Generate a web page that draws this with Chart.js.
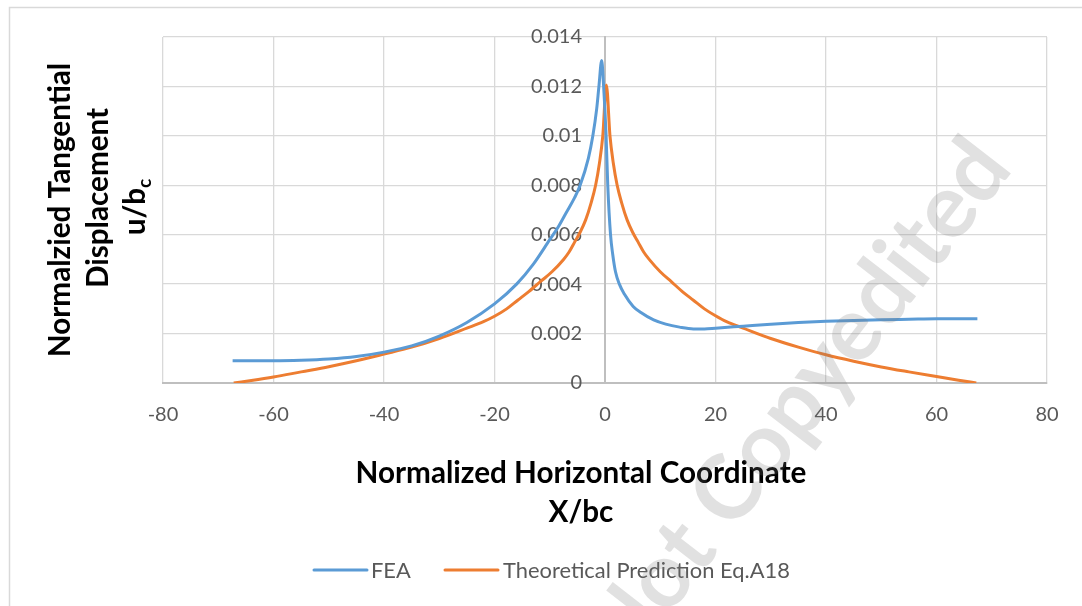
<!DOCTYPE html>
<html>
<head>
<meta charset="utf-8">
<script src="https://cdn.jsdelivr.net/npm/chart.js@4.4.1/dist/chart.umd.min.js"></script>
<style>
  html, body { margin: 0; padding: 0; background: #ffffff; }
  canvas { display: block; }
</style>
</head>
<body>
<canvas id="chart" width="1082" height="606"></canvas>
<script>
// ---------------- DATA ----------------
const seriesNames = ['FEA', 'Theoretical Prediction Eq.A18'];

const feaX = [-67.4, -60, -55, -50, -45, -40, -35, -30, -25, -20,
              -16, -13, -10, -8.5, -7, -5.5, -4.5, -3, -2.2, -1.5,
              -1.1, -0.6, -0.3, 0.2, 0.5, 1.0, 1.4, 1.9, 2.6, 3.5,
              5.1, 6.5, 8.8, 11, 13.5, 16, 18, 20, 25, 30,
              35, 40, 45, 50, 55, 60, 67.4];
const feaY = [0.0009, 0.0009, 0.00092, 0.00097, 0.00107, 0.00125, 0.0015, 0.0019, 0.00245, 0.0032,
              0.004, 0.0048, 0.0058, 0.0063, 0.0069, 0.0075, 0.008, 0.0091, 0.010, 0.0111,
              0.012, 0.01305, 0.0122, 0.010, 0.008, 0.006, 0.0052, 0.0045, 0.004, 0.0036,
              0.0031, 0.00285, 0.00255, 0.00238, 0.00226, 0.00219, 0.00219, 0.00222, 0.0023, 0.00238,
              0.00245, 0.0025, 0.00253, 0.00256, 0.00258, 0.0026, 0.0026];

const theoX = [-67.2, -64, -60, -55, -50, -45, -40, -35, -30, -25,
               -22, -20, -17.8, -15.8, -13.8, -11.7, -9.6, -7.5, -6.5, -5.5,
               -4.5, -3.5, -2.5, -1.7, -1.0, -0.4, 0.25, 0.9, 1.5, 2.2,
               3, 4, 5, 6, 7, 8, 10, 12, 14, 16,
               18, 20, 22, 25, 30, 35, 40, 45, 50, 55,
               60, 64, 67.2];
const theoY = [0, 0.0001, 0.00024, 0.00045, 0.00066, 0.0009, 0.00117, 0.00145, 0.0018, 0.00222,
               0.00248, 0.0027, 0.003, 0.00335, 0.0037, 0.0041, 0.0045, 0.005, 0.0053, 0.0057,
               0.0061, 0.0066, 0.0073, 0.008, 0.0089, 0.0100, 0.01206, 0.0100, 0.0089, 0.008,
               0.0073, 0.0066, 0.0061, 0.0057, 0.0053, 0.005, 0.0045, 0.0041, 0.0037, 0.00335,
               0.003, 0.00272, 0.00248, 0.00222, 0.0018, 0.00145, 0.00114, 0.00088, 0.00065, 0.00045,
               0.00026, 0.00011, 0];

const xTickValues = [-80, -60, -40, -20, 0, 20, 40, 60, 80];
const xTickLabels = ['-80', '-60', '-40', '-20', '0', '20', '40', '60', '80'];
const yTickValues = [0, 0.002, 0.004, 0.006, 0.008, 0.010, 0.012, 0.014];
const yTickLabels = ['0', '0.002', '0.004', '0.006', '0.008', '0.01', '0.012', '0.014'];

const xTitleLines = ['Normalized Horizontal Coordinate', 'X/bc'];
const yTitleLines = ['Normalzied Tangential', 'Displacement', 'u/b'];
const yTitleSub = 'c';
const watermarkText = 'Not Copyedited';

// ---------------- STYLE ----------------
const FONT = 'Lato';
const BLUE = '#5B9BD5';
const ORANGE = '#ED7D31';
const GRID = '#d9d9d9';
const AXIS = '#bfbfbf';
const TICK = '#595959';

function fitSize(ctx, text, weight, target) {
  ctx.font = weight + ' 100px ' + FONT;
  return 100 * target / ctx.measureText(text).width;
}

const deco = {
  id: 'deco',
  beforeDraw(chart) {
    const ctx = chart.ctx;
    ctx.save();
    ctx.strokeStyle = GRID;
    ctx.lineWidth = 1.5;
    ctx.strokeRect(9.5, 7.5, 1200, 700);
    ctx.restore();
  },
  afterDraw(chart) {
    const ctx = chart.ctx;
    ctx.save();
    // X title
    const tSize = fitSize(ctx, xTitleLines[0], 'bold', 451);
    ctx.font = 'bold ' + tSize + 'px ' + FONT;
    ctx.fillStyle = '#000';
    ctx.textAlign = 'center';
    ctx.textBaseline = 'alphabetic';
    ctx.fillText(xTitleLines[0], 581, 483);
    ctx.fillText(xTitleLines[1], 581, 522);

    // Y title (rotated)
    const yLine1 = { base: 70, center: 210 };
    const yLine2 = { base: 108, center: 198 };
    const yLine3 = { base: 145, center: 207 };
    const lines = [yLine1, yLine2];
    ctx.font = 'bold ' + tSize + 'px ' + FONT;
    for (let i = 0; i < 2; i++) {
      ctx.save();
      ctx.translate(lines[i].base, lines[i].center);
      ctx.rotate(-Math.PI / 2);
      ctx.textAlign = 'center';
      ctx.fillText(yTitleLines[i], 0, 0);
      ctx.restore();
    }
    // line 3 with subscript
    ctx.save();
    ctx.translate(yLine3.base, yLine3.center);
    ctx.rotate(-Math.PI / 2);
    const mainW = ctx.measureText(yTitleLines[2]).width;
    const subSize = tSize * 0.65;
    ctx.font = 'bold ' + subSize + 'px ' + FONT;
    const subW = ctx.measureText(yTitleSub).width;
    const total = mainW + subW;
    ctx.textAlign = 'left';
    ctx.font = 'bold ' + tSize + 'px ' + FONT;
    ctx.fillText(yTitleLines[2], -total / 2, 0);
    ctx.font = 'bold ' + subSize + 'px ' + FONT;
    ctx.fillText(yTitleSub, -total / 2 + mainW, tSize * 0.2);
    ctx.restore();

    // Legend
    const lSize = fitSize(ctx, seriesNames[1], 'normal', 287);
    ctx.font = lSize + 'px ' + FONT;
    ctx.fillStyle = TICK;
    ctx.textAlign = 'left';
    ctx.textBaseline = 'middle';
    const ds = chart.data.datasets;
    const legendItems = [{ x1: 314, x2: 367, tx: 371 }, { x1: 445, x2: 498, tx: 503 }];
    legendItems.forEach((it, i) => {
      ctx.strokeStyle = ds[i].borderColor;
      ctx.lineWidth = 3;
      ctx.lineCap = 'round';
      ctx.beginPath();
      ctx.moveTo(it.x1, 570);
      ctx.lineTo(it.x2, 570);
      ctx.stroke();
      ctx.fillText(seriesNames[i], it.tx, 571);
    });

    // Watermark
    const ang = -52.3 * Math.PI / 180;
    ctx.font = 'bold 90px ' + FONT;
    const offs = ctx.measureText('Not ').width + ctx.measureText('C').width / 2;
    const cx = 728, cy = 492;
    ctx.translate(cx - offs * Math.cos(ang), cy - offs * Math.sin(ang));
    ctx.rotate(ang);
    ctx.fillStyle = 'rgba(120,120,120,0.22)';
    ctx.textAlign = 'left';
    ctx.textBaseline = 'middle';
    ctx.fillText(watermarkText, 0, 0);
    ctx.restore();
  }
};

const toPoints = (xs, ys) => xs.map((x, i) => ({ x: x, y: ys[i] }));

new Chart(document.getElementById('chart'), {
  type: 'scatter',
  data: {
    datasets: [
      { label: seriesNames[0], data: toPoints(feaX, feaY), showLine: true, borderColor: BLUE, backgroundColor: BLUE,
        borderWidth: 3, pointRadius: 0, cubicInterpolationMode: 'monotone', fill: false },
      { label: seriesNames[1], data: toPoints(theoX, theoY), showLine: true, borderColor: ORANGE, backgroundColor: ORANGE,
        borderWidth: 3, pointRadius: 0, cubicInterpolationMode: 'monotone', fill: false }
    ]
  },
  options: {
    responsive: false,
    animation: false,
    devicePixelRatio: 1,
    layout: { padding: { left: 163, right: 35, top: 37, bottom: 0 } },
    plugins: { legend: { display: false }, title: { display: false }, tooltip: { enabled: false } },
    scales: {
      x: {
        type: 'linear', min: -80, max: 80,
        afterBuildTicks: s => { s.ticks = xTickValues.map(v => ({ value: v })); },
        afterFit: s => { s.height = 223; },
        ticks: { callback: (v, i) => xTickLabels[i], color: TICK, font: { family: FONT, size: 20 }, padding: 20, maxRotation: 0 },
        grid: { color: ctx => (ctx.tick && ctx.tick.value === 0 ? AXIS : GRID), lineWidth: 1.3, drawTicks: false },
        border: { color: AXIS, width: 2 }
      },
      y: {
        type: 'linear', min: 0, max: 0.014, position: 'center',
        afterBuildTicks: s => { s.ticks = yTickValues.map(v => ({ value: v })); },
        ticks: { callback: (v, i) => yTickLabels[i], color: TICK, font: { family: FONT, size: 20 }, padding: 23 },
        grid: { color: ctx => (ctx.tick && ctx.tick.value === 0 ? AXIS : GRID), lineWidth: 1.3, drawTicks: false },
        border: { color: AXIS, width: 2 }
      }
    }
  },
  plugins: [deco]
});
</script>
</body>
</html>
